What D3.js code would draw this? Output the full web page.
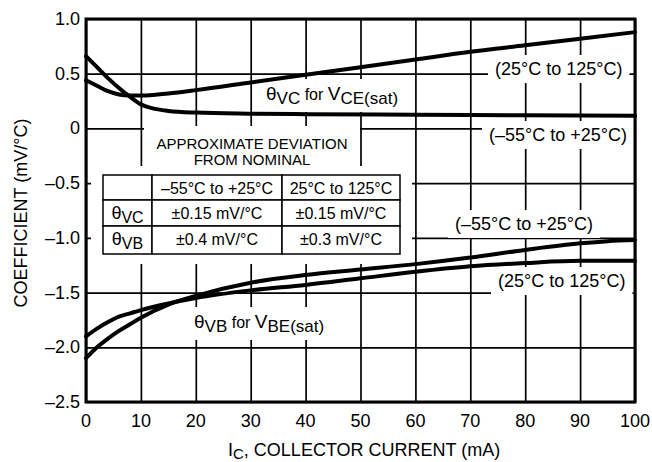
<!DOCTYPE html>
<html>
<head>
<meta charset="utf-8">
<script src="https://cdn.jsdelivr.net/npm/d3@7"></script>
<style>
  body { margin: 0; background: #fff; }
  svg { display: block; font-family: "Liberation Sans", Arial, Helvetica, sans-serif; }
  .grid line { stroke: #000; stroke-width: 1.7; }
  .grid .domain { display: none; }
  .curve { fill: none; stroke: #000; stroke-width: 4; stroke-linejoin: round; stroke-linecap: round; }
  .tick-label { font-size: 18px; }
  .cell { fill: #fff; stroke: #000; stroke-width: 1.5; }
</style>
</head>
<body>
<svg id="chart" width="652" height="462"></svg>
<script>
// collector current (mA) tick values and coefficient (mV/°C) ticks
const xTicks = [0, 10, 20, 30, 40, 50, 60, 70, 80, 90, 100];
const yTicks = [1.0, 0.5, 0, -0.5, -1.0, -1.5, -2.0, -2.5];
const yTickLabels = ["1.0", "0.5", "0", "\u20130.5", "\u20131.0", "\u20131.5", "\u20132.0", "\u20132.5"];

// θVC for VCE(sat)
const vcHot = [[0,0.44],[2,0.39],[4,0.34],[6,0.31],[8,0.30],[10,0.30],[15,0.32],[20,0.35],[30,0.42],[40,0.49],[50,0.56],[60,0.63],[70,0.70],[80,0.76],[90,0.82],[100,0.88]];
const vcCold = [[0,0.66],[2,0.56],[4,0.46],[6,0.37],[8,0.29],[10,0.22],[12,0.185],[15,0.16],[20,0.145],[30,0.135],[40,0.13],[60,0.125],[80,0.12],[100,0.115]];
// θVB for VBE(sat)
const vbHot = [[0,-1.90],[2,-1.83],[4,-1.77],[6,-1.72],[8,-1.69],[10,-1.66],[15,-1.60],[20,-1.55],[30,-1.48],[40,-1.43],[50,-1.37],[60,-1.31],[70,-1.26],[80,-1.23],[90,-1.21],[100,-1.21]];
const vbCold = [[0,-2.10],[2,-2.00],[4,-1.92],[6,-1.85],[8,-1.79],[10,-1.73],[15,-1.61],[20,-1.53],[30,-1.41],[40,-1.34],[50,-1.29],[60,-1.24],[70,-1.18],[80,-1.11],[90,-1.05],[95,-1.03],[100,-1.02]];

// deviation table
const tableHeader = ["", "\u201355\u00B0C to +25\u00B0C", "25\u00B0C to 125\u00B0C"];
const tableRows = [
  ["VC", "\u00B10.15 mV/\u00B0C", "\u00B10.15 mV/\u00B0C"],
  ["VB", "\u00B10.4 mV/\u00B0C", "\u00B10.3 mV/\u00B0C"]
];

const svg = d3.select("#chart");
const plot = {left: 86, right: 635, top: 19, bottom: 402};

const x = d3.scaleLinear().domain([0, 100]).range([plot.left, plot.right]);
const y = d3.scaleLinear().domain([-2.5, 1]).range([plot.bottom, plot.top]);

// grid lines
svg.append("g").attr("class", "grid")
  .attr("transform", "translate(0," + plot.bottom + ")")
  .call(d3.axisBottom(x).tickValues(xTicks).tickSize(-(plot.bottom - plot.top)).tickFormat(""));
svg.append("g").attr("class", "grid")
  .attr("transform", "translate(" + plot.left + ",0)")
  .call(d3.axisLeft(y).tickValues(yTicks).tickSize(-(plot.right - plot.left)).tickFormat(""));

const knock = svg.append("g");
const curves = svg.append("g");
const labels = svg.append("g");

// white boxes for the table area
knock.append("rect").attr("x", 144).attr("y", 126).attr("width", 216).attr("height", 44).attr("fill", "#fff");
knock.append("rect").attr("x", 91).attr("y", 166).attr("width", 321).attr("height", 98).attr("fill", "#fff");

// curves
const line = d3.line().x(d => x(d[0])).y(d => y(d[1])).curve(d3.curveMonotoneX);
[vcHot, vcCold, vbHot, vbCold].forEach(s => {
  curves.append("path").attr("class", "curve").attr("d", line(s));
});

// frame
svg.append("rect")
  .attr("x", plot.left).attr("y", plot.top)
  .attr("width", plot.right - plot.left).attr("height", plot.bottom - plot.top)
  .attr("fill", "none").attr("stroke", "#000").attr("stroke-width", 3);

// tick labels
svg.append("g").selectAll("text").data(xTicks).join("text")
  .attr("class", "tick-label")
  .attr("x", d => x(d)).attr("y", 427)
  .attr("text-anchor", "middle")
  .text(d => d);
svg.append("g").selectAll("text").data(yTicks).join("text")
  .attr("class", "tick-label")
  .attr("x", 80).attr("y", d => y(d) + 6)
  .attr("text-anchor", "end")
  .text((d, i) => yTickLabels[i]);

// axis titles
const xt = svg.append("text").attr("x", 228).attr("y", 456).attr("font-size", 18);
xt.append("tspan").text("I");
xt.append("tspan").attr("font-size", 15).attr("dy", 3).text("C");
xt.append("tspan").attr("dy", -3).text(", COLLECTOR CURRENT (mA)");

svg.append("text")
  .attr("transform", "translate(27,213) rotate(-90)")
  .attr("text-anchor", "middle").attr("font-size", 18)
  .text("COEFFICIENT (mV/\u00B0C)");

// curve labels with white boxes behind them
function boxed(t, padX, padY) {
  const b = t.node().getBBox();
  knock.append("rect")
    .attr("x", b.x - padX).attr("y", b.y - padY)
    .attr("width", b.width + 2 * padX).attr("height", b.height + 2 * padY)
    .attr("fill", "#fff");
}
function simpleLabel(str, lx, ly) {
  const t = labels.append("text").attr("x", lx).attr("y", ly).attr("font-size", 18).text(str);
  boxed(t, 7, 4);
}
simpleLabel("(25\u00B0C to 125\u00B0C)", 495, 75);
simpleLabel("(\u201355\u00B0C to +25\u00B0C)", 489, 141);
simpleLabel("(\u201355\u00B0C to +25\u00B0C)", 455, 230);
simpleLabel("(25\u00B0C to 125\u00B0C)", 498, 287);

function thetaLabel(sub1, sub2, lx, ly) {
  const t = labels.append("text").attr("x", lx).attr("y", ly).attr("font-size", 19);
  t.append("tspan").text("\u03B8");
  t.append("tspan").attr("font-size", 17).attr("dy", 4).text(sub1);
  t.append("tspan").attr("font-size", 16).attr("dy", -4).text(" for ");
  t.append("tspan").text("V");
  t.append("tspan").attr("font-size", 17).attr("dy", 4).text(sub2);
  boxed(t, 6, 4);
}
thetaLabel("VC", "CE(sat)", 266, 100);
thetaLabel("VB", "BE(sat)", 194, 328);

// table title
labels.append("text").attr("x", 252).attr("y", 149).attr("text-anchor", "middle")
  .attr("font-size", 15).text("APPROXIMATE DEVIATION");
labels.append("text").attr("x", 252).attr("y", 165).attr("text-anchor", "middle")
  .attr("font-size", 15).text("FROM NOMINAL");

// table
const colX = [103, 152, 282, 400];
const rowY = [175, 200, 226, 254];
const table = labels.append("g");
for (let r = 0; r < 3; r++) {
  for (let c = 0; c < 3; c++) {
    table.append("rect").attr("class", "cell")
      .attr("x", colX[c]).attr("y", rowY[r])
      .attr("width", colX[c + 1] - colX[c]).attr("height", rowY[r + 1] - rowY[r]);
  }
}
tableHeader.forEach((h, c) => {
  table.append("text")
    .attr("x", (colX[c] + colX[c + 1]) / 2).attr("y", rowY[0] + 19)
    .attr("text-anchor", "middle").attr("font-size", 16).text(h);
});
tableRows.forEach((row, r) => {
  row.forEach((v, c) => {
    const t = table.append("text")
      .attr("x", (colX[c] + colX[c + 1]) / 2).attr("y", rowY[r + 1] + 19)
      .attr("text-anchor", "middle").attr("font-size", 16);
    if (c === 0) {
      t.append("tspan").attr("font-size", 18).text("\u03B8");
      t.append("tspan").attr("dy", 4).text(v);
    } else {
      t.text(v);
    }
  });
});
</script>
</body>
</html>
